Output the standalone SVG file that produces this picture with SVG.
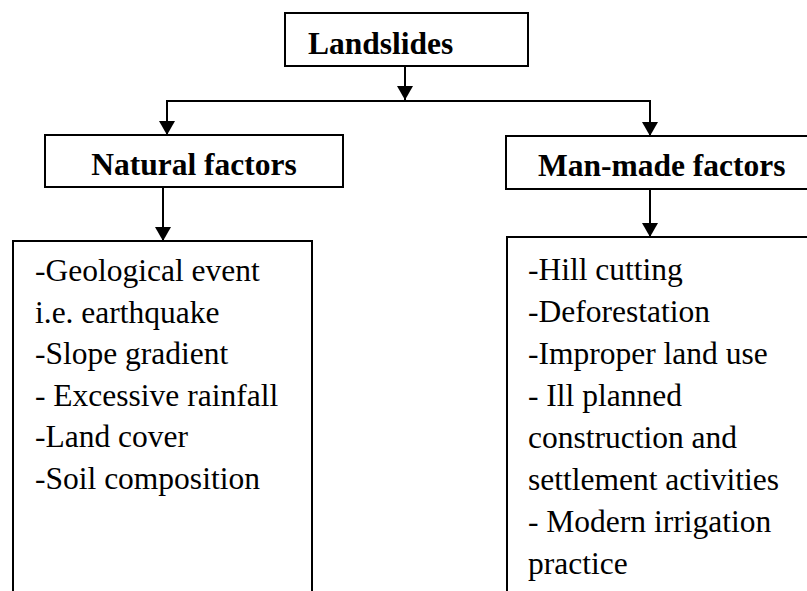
<svg xmlns="http://www.w3.org/2000/svg" width="807" height="591" viewBox="0 0 807 591">
<style>
.box{fill:#fff;stroke:#000;stroke-width:2}
text{font-family:"Liberation Serif",serif;font-size:31.5px;fill:#000}
.hd{font-weight:bold}
.ln{fill:none;stroke:#000;stroke-width:2}
</style>
<defs>
<marker id="ah" viewBox="0 0 14 16" refX="14" refY="8" markerWidth="14" markerHeight="16" markerUnits="userSpaceOnUse" orient="auto">
<path d="M0,0 L14,8 L0,16 z" fill="#000"/>
</marker>
</defs>
<rect width="807" height="591" fill="#fff"/>
<g id="connectors">
<line class="ln" x1="405" y1="66" x2="405" y2="100" marker-end="url(#ah)"/>
<polyline class="ln" points="167,120 167,101 650,101 650,120"/>
<line class="ln" x1="167" y1="101" x2="167" y2="135" marker-end="url(#ah)"/>
<line class="ln" x1="650" y1="101" x2="650" y2="136" marker-end="url(#ah)"/>
<line class="ln" x1="163" y1="187" x2="163" y2="241" marker-end="url(#ah)"/>
<line class="ln" x1="650" y1="189" x2="650" y2="237" marker-end="url(#ah)"/>
</g>
<g id="landslides">
<rect class="box" x="285" y="13" width="243" height="53"/>
<text class="hd" x="308" y="54">Landslides</text>
</g>
<g id="natural">
<rect class="box" x="45" y="135" width="298" height="52"/>
<text class="hd" x="194" y="175" text-anchor="middle">Natural factors</text>
</g>
<g id="manmade">
<rect class="box" x="506" y="136" width="310" height="53"/>
<text class="hd" x="538" y="176">Man-made factors</text>
</g>
<g id="natural-list">
<path class="ln" d="M13,600 L13,241 L312,241 L312,600"/>
<text x="35" y="281">-Geological event</text>
<text x="35" y="323">i.e. earthquake</text>
<text x="35" y="364">-Slope gradient</text>
<text x="35" y="406">- Excessive rainfall</text>
<text x="35" y="447">-Land cover</text>
<text x="35" y="489">-Soil composition</text>
</g>
<g id="manmade-list">
<path class="ln" d="M507,600 L507,237 L815,237"/>
<text x="528" y="280">-Hill cutting</text>
<text x="528" y="322">-Deforestation</text>
<text x="528" y="364">-Improper land use</text>
<text x="528" y="406">- Ill planned</text>
<text x="528" y="448">construction and</text>
<text x="528" y="490">settlement activities</text>
<text x="528" y="532">- Modern irrigation</text>
<text x="528" y="574">practice</text>
</g>
</svg>
